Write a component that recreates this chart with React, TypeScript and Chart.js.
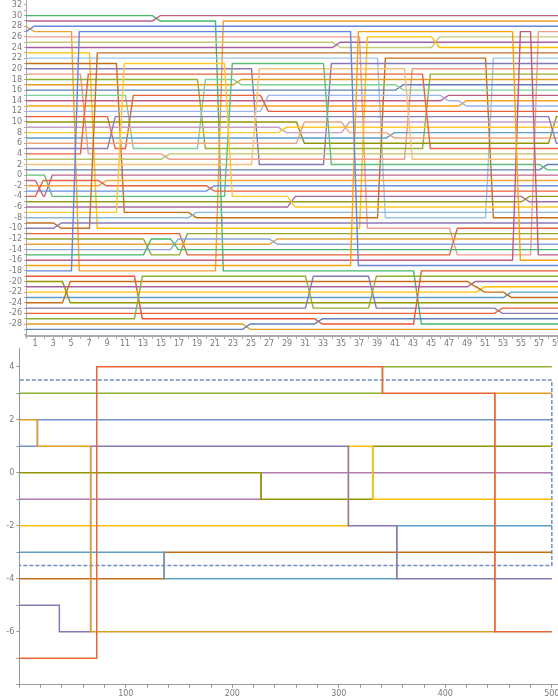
import React, { useEffect, useRef } from "react";
import { Chart, registerables } from "chart.js";
Chart.register(...registerables);

// ---------- TOP CHART DATA ----------
// initial level of each of the 60 strands (bottom to top)
const LINE_LEVELS = [
  -29, -28, -27, -26, -25, -24, -23, -22, -21, -20, -19, -18, -17, -16, -15,
  -14, -13, -12, -11, -10, -9, -8, -7, -6, -5, -4, -3, -2, -1, 0,
  1, 2, 3, 4, 5, 6, 7, 8, 9, 10, 11, 12, 13, 14, 15,
  16, 17, 18, 19, 20, 21, 22, 23, 24, 25, 26, 27, 28, 29, 30,
];
const LINE_COLORS = [
  "#5E81B5", "#E19C24", "#8FB032", "#EB6235", "#8778B3", "#C56E1A", "#5D9EC7", "#FFBF00", "#A5609D", "#929600", "#E95536", "#6685D9", "#F89F13", "#BC5B80", "#47B66D",
  "#88A6DA", "#E8A23C", "#8FA830", "#E8603A", "#8A7AB5", "#C0702A", "#8AB8DC", "#FFC72E", "#A86AA0", "#949A1A", "#E85F42", "#6D8FD8", "#F3A33A", "#C0668A", "#5DBE7A",
  "#5E81B5", "#F4C07A", "#B9C46A", "#E9643C", "#8A7DB5", "#E9A57D", "#5D9EC7", "#FFC933", "#C89EC4", "#929600", "#E8603A", "#9FB3E6", "#F8A020", "#BC5B80", "#7FCE95",
  "#5E81B5", "#E19C24", "#8FB032", "#EE9A88", "#8778B3", "#C56E1A", "#9EC3E3", "#FFC000", "#A5609D", "#C5C77E", "#EF9C8A", "#6685D9", "#F0A030", "#C0608A", "#47B66D",
];
// [time, levelA, levelB] : strands at the two levels exchange places
const SWAPS: [number, number, number][] = [
  [0, 28, 27], [1, -1, -4], [2, 0, -4], [3, -9, -10], [4, -20, -24],
  [5, 27, -18], [6, 19, 4], [7, 23, -10], [8, -1, -2], [9, 11, 5],
  [10, 21, -7], [11, 15, 5], [12, -19, -27], [13, -12, -15], [14, 30, 29],
  [15, 4, 3], [16, -12, -14], [17, -11, -15], [18, -7, -8], [19, 18, 5],
  [20, -2, -3], [21, 29, -18], [22, 21, -4], [23, 18, 17], [24, -28, -29],
  [25, 20, 2], [26, 15, 12], [27, -12, -13], [28, 9, 8], [29, -4, -6],
  [30, 10, 6], [31, -19, -25], [32, -27, -28], [33, 21, 2], [34, 25, 24],
  [35, 10, 8], [36, 27, -17], [37, 26, -10], [38, -19, -25], [39, 22, -8],
  [40, 8, 7], [41, 17, 16], [42, 20, 3], [43, -18, -28], [44, 19, 5],
  [45, 26, 24], [46, 15, 14], [47, -10, -15], [48, 14, 13], [49, -20, -21],
  [50, -21, -22], [51, 22, -8], [52, -25, -26], [53, -22, -23], [54, 27, -16],
  [55, -4, -5], [56, 27, -15], [57, 2, 1], [58, 11, 6],
];
const TOP_X_LABELS = [1, 3, 5, 7, 9, 11, 13, 15, 17, 19, 21, 23, 25, 27, 29, 31, 33, 35, 37, 39, 41, 43, 45, 47, 49, 51, 53, 55, 57, 59];
const TOP_Y_LABELS = [-28, -26, -24, -22, -20, -18, -16, -14, -12, -10, -8, -6, -4, -2, 0, 2, 4, 6, 8, 10, 12, 14, 16, 18, 20, 22, 24, 26, 28, 30, 32];

// ---------- BOTTOM CHART DATA ----------
// [x where the level starts, level]
const RED_STEPS = [[0, -7], [72.7, 4], [341, 3], [446.5, -6], [500, -6]];
const GREEN_STEPS = [[0, 3], [341, 4], [500, 4]];
const ORANGE_STEPS = [[0, 2], [17, 1], [67, -6], [446.5, 3], [500, 3]];
const BLUE_STEPS = [[0, 1], [17, 2], [500, 2]];
const PURPLE_STEPS = [[0, -5], [37.6, -6], [67, 1], [309, -2], [354.4, -4], [500, -4]];
const YELLOW_STEPS = [[0, -2], [309, 1], [331.8, -1], [500, -1]];
const OLIVE_STEPS = [[0, 0], [227, -1], [331.8, 1], [500, 1]];
const MAGENTA_STEPS = [[0, -1], [227, 0], [500, 0]];
const SKY_STEPS = [[0, -3], [136, -4], [354.4, -2], [500, -2]];
const BROWN_STEPS = [[0, -4], [136, -3], [500, -3]];
const BOT_SERIES = [RED_STEPS, GREEN_STEPS, ORANGE_STEPS, BLUE_STEPS, PURPLE_STEPS, YELLOW_STEPS, OLIVE_STEPS, MAGENTA_STEPS, SKY_STEPS, BROWN_STEPS];
const BOT_COLORS = ["#EB6235", "#8FB032", "#E19C24", "#7093C6", "#8778B3", "#FFBF00", "#929600", "#B07AAE", "#5D9EC7", "#C56E1A"];
const RECT_X = [0, 500];
const RECT_Y = [-3.5, 3.5];
const BOT_X_LABELS = [100, 200, 300, 400, 500];
const BOT_Y_LABELS = [-6, -4, -2, 0, 2, 4];

const FONT = { family: "DejaVu Sans, sans-serif", size: 8 };
const TICK_COLOR = "#7a7a7a";

function buildStrands() {
  const pos = LINE_LEVELS.slice();
  const pts: { x: number; y: number }[][] = LINE_LEVELS.map((l) => [{ x: 0, y: l }]);
  const sorted = SWAPS.slice().sort((a, b) => a[0] - b[0]);
  for (const [t, a, b] of sorted) {
    const ia = pos.indexOf(a);
    const ib = pos.indexOf(b);
    if (ia < 0 || ib < 0) continue;
    pts[ia].push({ x: t + 0.05, y: a }, { x: t + 0.92, y: b });
    pts[ib].push({ x: t + 0.05, y: b }, { x: t + 0.92, y: a });
    pos[ia] = b;
    pos[ib] = a;
  }
  pts.forEach((p, i) => p.push({ x: 60, y: pos[i] }));
  return pts;
}

function range(a: number, b: number, s: number) {
  const r: number[] = [];
  for (let v = a; v <= b + 1e-9; v += s) r.push(v);
  return r;
}

export default function App() {
  const topRef = useRef<HTMLCanvasElement | null>(null);
  const botRef = useRef<HTMLCanvasElement | null>(null);

  useEffect(() => {
    document.body.style.margin = "0";
    const strands = buildStrands();
    const top = new Chart(topRef.current!, {
      type: "line",
      data: {
        datasets: strands.map((p, i) => ({
          data: p,
          borderColor: LINE_COLORS[i],
          borderWidth: 1.4,
          pointRadius: 0,
          tension: 0,
          fill: false,
        })),
      },
      options: {
        responsive: false,
        animation: false,
        devicePixelRatio: 1,
        layout: { padding: 0 },
        plugins: { legend: { display: false }, tooltip: { enabled: false } },
        scales: {
          x: {
            type: "linear",
            min: 0,
            max: 59.1,
            afterBuildTicks: (s: any) => {
              s.ticks = range(0, 59, 1).map((v) => ({ value: v }));
            },
            ticks: {
              autoSkip: false,
              maxRotation: 0,
              padding: 0,
              font: FONT,
              color: TICK_COLOR,
              callback: (v: any) => (TOP_X_LABELS.includes(Number(v)) ? String(v) : ""),
            },
            grid: { drawOnChartArea: false, drawTicks: true, tickLength: 3, color: "#aaa" },
            border: { color: "#aaa", width: 2 },
            afterFit: (s: any) => {
              s.height = 12;
              s.paddingLeft = 0;
              s.paddingRight = 0;
            },
          },
          y: {
            type: "linear",
            min: -30.25,
            max: 32.94,
            afterBuildTicks: (s: any) => {
              s.ticks = range(-30, 32, 1).map((v) => ({ value: v }));
            },
            ticks: {
              autoSkip: false,
              padding: 2,
              font: FONT,
              color: TICK_COLOR,
              callback: (v: any) => (TOP_Y_LABELS.includes(Number(v)) ? String(v) : ""),
            },
            grid: { drawOnChartArea: false, drawTicks: true, tickLength: 2, color: "#aaa" },
            border: { color: "#aaa", width: 1 },
            afterFit: (s: any) => {
              s.width = 26;
              s.paddingTop = 0;
              s.paddingBottom = 0;
            },
          },
        },
      },
    });

    const botData: any[] = BOT_SERIES.map((steps, i) => ({
      data: steps.map(([x, y]) => ({ x, y })),
      borderColor: BOT_COLORS[i],
      borderWidth: 1.5,
      pointRadius: 0,
      stepped: "before",
      fill: false,
    }));
    botData.push({
      data: [
        { x: RECT_X[0], y: RECT_Y[0] },
        { x: RECT_X[0], y: RECT_Y[1] },
        { x: RECT_X[1], y: RECT_Y[1] },
        { x: RECT_X[1], y: RECT_Y[0] },
        { x: RECT_X[0], y: RECT_Y[0] },
      ],
      borderColor: "#6F8DBE",
      borderWidth: 1.5,
      borderDash: [4, 2],
      pointRadius: 0,
      fill: false,
    });

    const bot = new Chart(botRef.current!, {
      type: "line",
      data: { datasets: botData },
      options: {
        responsive: false,
        animation: false,
        devicePixelRatio: 1,
        layout: { padding: 0 },
        plugins: { legend: { display: false }, tooltip: { enabled: false } },
        scales: {
          x: {
            type: "linear",
            min: 0,
            max: 505.8,
            afterBuildTicks: (s: any) => {
              s.ticks = range(0, 500, 20).map((v) => ({ value: v }));
            },
            ticks: {
              autoSkip: false,
              maxRotation: 0,
              padding: 1,
              font: FONT,
              color: TICK_COLOR,
              callback: (v: any) => (BOT_X_LABELS.includes(Number(v)) ? String(v) : ""),
            },
            grid: { drawOnChartArea: false, drawTicks: true, tickLength: 3, color: "#999" },
            border: { color: "#999", width: 1 },
            afterFit: (s: any) => {
              s.height = 11.3;
              s.paddingLeft = 0;
              s.paddingRight = 0;
            },
          },
          y: {
            type: "linear",
            min: -8,
            max: 4.706,
            afterBuildTicks: (s: any) => {
              s.ticks = range(-8, 4, 1).map((v) => ({ value: v }));
            },
            ticks: {
              autoSkip: false,
              padding: 2,
              font: FONT,
              color: TICK_COLOR,
              callback: (v: any) => (BOT_Y_LABELS.includes(Number(v)) ? String(v) : ""),
            },
            grid: { drawOnChartArea: false, drawTicks: true, tickLength: 3, color: "#999" },
            border: { color: "#999", width: 1 },
            afterFit: (s: any) => {
              s.width = 19.3;
              s.paddingTop = 0;
              s.paddingBottom = 0;
            },
          },
        },
      },
    });

    return () => {
      top.destroy();
      bot.destroy();
    };
  }, []);

  return (
    <div style={{ position: "absolute", left: 0, top: 0, width: 558, height: 696, overflow: "hidden", background: "#fff" }}>
      <canvas ref={topRef} width={558} height={348} style={{ position: "absolute", left: 0, top: 0 }} />
      <canvas ref={botRef} width={558} height={348} style={{ position: "absolute", left: 0, top: 348 }} />
    </div>
  );
}
